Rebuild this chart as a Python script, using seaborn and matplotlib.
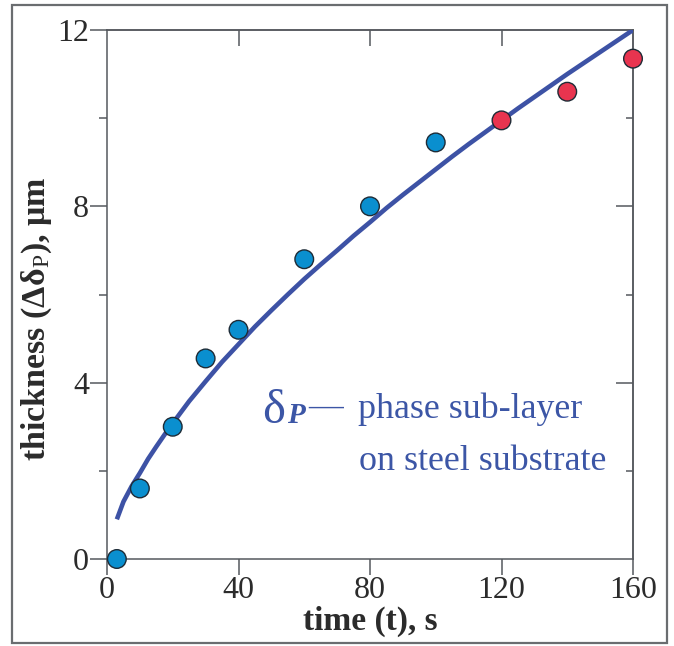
import matplotlib
matplotlib.use("Agg")
import matplotlib.pyplot as plt
import pandas as pd
import seaborn as sns
from matplotlib.patches import Rectangle
from matplotlib.ticker import FixedLocator

# measured sub-layer thickness
time_s = [3, 10, 20, 30, 40, 60, 80, 100, 120, 140, 160]
thickness_um = [0.0, 1.6, 3.0, 4.55, 5.2, 6.8, 8.0, 9.45, 9.95, 10.6, 11.35]
stage = ["early"] * 8 + ["late"] * 3

# growth curve through the data
curve_t = [3, 5, 7.5, 10, 12.5, 15, 17.5, 20, 25, 30, 35, 40, 45, 50, 55, 60, 65, 70,
           75, 80, 85, 90, 95, 100, 105, 110, 115, 120, 125, 130, 135, 140, 145, 150,
           155, 160]
curve_um = [0.9, 1.3, 1.65, 1.95, 2.27, 2.55, 2.82, 3.08, 3.58, 4.03, 4.47, 4.87, 5.27,
            5.64, 6.0, 6.35, 6.68, 7.0, 7.33, 7.64, 7.96, 8.26, 8.55, 8.84, 9.13, 9.41,
            9.68, 9.95, 10.22, 10.48, 10.74, 11.0, 11.25, 11.5, 11.75, 12.0]

x_ticks = [0, 40, 80, 120, 160]
y_ticks = [0, 4, 8, 12]
y_minor = [2, 6, 10]

points = pd.DataFrame({"t": time_s, "d": thickness_um, "stage": stage})
curve = pd.DataFrame({"t": curve_t, "d": curve_um})

sns.set_theme(style="ticks")
plt.rcParams["font.family"] = ["Liberation Serif", "DejaVu Serif"]
plt.rcParams["mathtext.fontset"] = "custom"
plt.rcParams["mathtext.rm"] = "Liberation Serif"
plt.rcParams["mathtext.bf"] = "Liberation Serif:bold"
plt.rcParams["mathtext.it"] = "Liberation Serif:italic"

spine_c = "#55595e"
text_c = "#2b2b2b"
blue_text = "#3c56a6"

fig = plt.figure(figsize=(6.74, 6.46), dpi=100)
fig.patch.set_facecolor("white")
ax = fig.add_axes([107 / 674, 1 - 559 / 646, 526 / 674, 529 / 646])

sns.lineplot(data=curve, x="t", y="d", ax=ax, color="#3d52a5", linewidth=3.3,
             solid_capstyle="butt", zorder=3)
sns.scatterplot(data=points, x="t", y="d", hue="stage",
                palette={"early": "#0a8fcf", "late": "#e8344f"},
                s=180, edgecolor="#1e2b36", linewidth=1.0, legend=False,
                ax=ax, clip_on=False, zorder=5)

ax.set_xlim(0, 160)
ax.set_ylim(0, 12)
ax.set_xticks(x_ticks)
ax.set_yticks(y_ticks)
ax.yaxis.set_minor_locator(FixedLocator(y_minor))

for s in ax.spines.values():
    s.set_color(spine_c)
    s.set_linewidth(1.1)

ax.tick_params(axis="x", which="major", direction="out", length=11.5, width=1.1,
               color=spine_c, labelsize=23, labelcolor=text_c, pad=1)
ax.tick_params(axis="y", which="major", direction="out", length=12, width=1.1,
               color=spine_c, labelsize=23, labelcolor=text_c, pad=1)
ax.tick_params(axis="y", which="minor", direction="out", length=6, width=1.1,
               color=spine_c)

# inward ticks on the top and right edges
top = ax.secondary_xaxis("top")
top.set_xticks([40, 80, 120])
top.tick_params(direction="in", length=11.5, width=1.1, color=spine_c, labeltop=False)
top.spines["top"].set_color(spine_c)
top.spines["top"].set_linewidth(1.1)

right = ax.secondary_yaxis("right")
right.set_yticks([4, 8])
right.yaxis.set_minor_locator(FixedLocator(y_minor))
right.tick_params(which="major", direction="in", length=12, width=1.1, color=spine_c,
                  labelright=False)
right.tick_params(which="minor", direction="in", length=5, width=1.1, color=spine_c)
right.spines["right"].set_color(spine_c)
right.spines["right"].set_linewidth(1.1)

ax.set_xlabel("time (t), s", fontsize=24, fontweight="bold", color=text_c, labelpad=0)
ax.set_ylabel(r"thickness ($\mathbf{\Delta\delta}_{\mathrm{P}}$), $\mathbf{\mu}$m",
              fontsize=24.5, fontweight="bold", color=text_c)
ax.yaxis.set_label_coords(-0.10, 0.455)

# phase annotation
ax.text(0.295, 0.257, "δ", transform=ax.transAxes, fontsize=35, color=blue_text,
        va="baseline", ha="left")
ax.text(0.343, 0.257, "P", transform=ax.transAxes, fontsize=21, color=blue_text,
        fontweight="bold", fontstyle="italic", va="baseline", ha="left")
ax.text(0.383, 0.27, "—", transform=ax.transAxes, fontsize=25, color=blue_text,
        va="baseline", ha="left")
ax.text(0.477, 0.2665, "phase sub-layer", transform=ax.transAxes, fontsize=25.8,
        color=blue_text, va="baseline", ha="left")
ax.text(0.479, 0.168, "on steel substrate", transform=ax.transAxes, fontsize=25.8,
        color=blue_text, va="baseline", ha="left")

# outer frame
fig.patches.append(Rectangle((12 / 674, 3 / 646), 655 / 674, 638 / 646,
                             transform=fig.transFigure, fill=False,
                             edgecolor="#6a6d70", linewidth=1.6))

fig.savefig("out.png", dpi=100)
